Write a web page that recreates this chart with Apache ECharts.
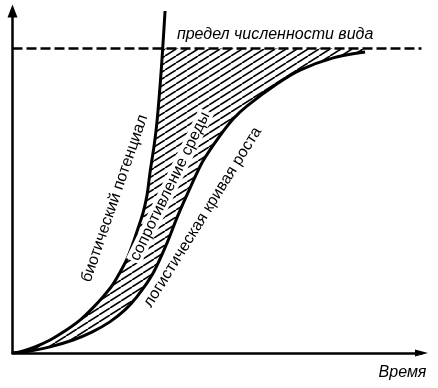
<!DOCTYPE html>
<html><head><meta charset="utf-8">
<script src="https://cdn.jsdelivr.net/npm/echarts@6/dist/echarts.min.js"></script>
<style>html,body{margin:0;padding:0;background:#fff}#c{width:438px;height:388px}</style>
</head><body><div id="c"></div>
<script>
// Schematic units: time 0..100, population size 0..100
const carryingCapacity = 89;
const bioticPotential = [[0,0],[1.8,0.3],[5.5,1.8],[9.2,3.8],[12.8,6.4],[16.5,9.6],[19.4,12.9],[22.1,16.4],[24.3,19.6],[26.2,23.4],[28.0,27.5],[29.5,32.2],[30.7,36.5],[31.9,40.9],[32.9,46.2],[33.6,52.6],[34.6,60.5],[35.3,67.3],[36.1,78.4],[36.7,88.6],[37.3,100]];
const logisticGrowth = [[0,0],[4.3,0.6],[9.2,1.8],[14.8,3.8],[19.4,6.1],[23.8,9.1],[27.5,12.6],[30.4,16.4],[34.4,23.4],[37.8,32.2],[40.2,39.5],[43.4,48.2],[46.5,56.0],[50.7,63.5],[54.0,68.5],[57.3,72.2],[64.7,78.7],[70.3,82.7],[78.4,86.3],[86.2,88.0]];
const limitX = [0, 100];
const labelText = ['предел численности вида','биотический потенциал','сопротивление среды','логистическая кривая роста','Время'];
const labelPos = [[40.2,93.0],[25.0,45.2],[38.5,48.7],[46.5,39.7],[101.2,-5.8]];
const labelAngle = [0,71,64,58,0];
const labelAlign = ['left','center','center','center','right'];
const labelItalic = [true,false,false,false,true];
const labelBg = [false,false,true,false,false];

function hatchPattern(){
  const w=11,h=7,c=document.createElement('canvas');
  c.width=w;c.height=h;
  const g=c.getContext('2d');
  g.strokeStyle='#000';g.lineWidth=1.6;
  for(const dx of [-w,0,w]){g.beginPath();g.moveTo(dx,h);g.lineTo(dx+w,0);g.stroke();}
  return c;
}

function crossing(){
  for(let i=1;i<bioticPotential.length;i++){
    const a=bioticPotential[i-1],b=bioticPotential[i];
    if(a[1]<=carryingCapacity&&b[1]>=carryingCapacity){
      const t=(carryingCapacity-a[1])/(b[1]-a[1]);
      return [a[0]+t*(b[0]-a[0]),carryingCapacity];
    }
  }
}
const region=[crossing()]
  .concat(bioticPotential.filter(p=>p[1]<carryingCapacity).reverse())
  .concat(logisticGrowth.slice(1))
  .concat([[logisticGrowth[logisticGrowth.length-1][0],carryingCapacity]]);

const pattern=hatchPattern();
const chart=echarts.init(document.getElementById('c'));
chart.setOption({
  animation:false,
  backgroundColor:'#fff',
  grid:{left:12.5,right:16.5,top:11,bottom:35},
  xAxis:{type:'value',min:0,max:100,
    axisLine:{show:true,onZero:false,symbol:['none','triangle'],symbolSize:[7,13],lineStyle:{color:'#000',width:2.5}},
    axisTick:{show:false},axisLabel:{show:false},splitLine:{show:false}},
  yAxis:{type:'value',min:0,max:100,
    axisLine:{show:true,onZero:false,symbol:['none','triangle'],symbolSize:[10,13],lineStyle:{color:'#000',width:2.5}},
    axisTick:{show:false},axisLabel:{show:false},splitLine:{show:false}},
  series:[
    {type:'custom',z:1,data:[[0,0]],
      renderItem:function(params,api){
        return {type:'polygon',shape:{points:region.map(p=>api.coord(p))},
          style:{fill:{image:pattern,repeat:'repeat'},stroke:null}};
      }},
    {type:'line',z:3,data:limitX.map(x=>[x,carryingCapacity]),symbol:'none',
      lineStyle:{color:'#000',width:2.5,type:[10,4]}},
    {type:'line',z:3,data:bioticPotential,symbol:'none',smooth:0.3,
      lineStyle:{color:'#000',width:3}},
    {type:'line',z:3,data:logisticGrowth,symbol:'none',smooth:0.3,
      lineStyle:{color:'#000',width:3}},
    {type:'custom',z:5,data:labelPos.map((p,i)=>[p[0],p[1],i]),
      renderItem:function(params,api){
        const i=params.dataIndex;
        const pt=api.coord([labelPos[i][0],labelPos[i][1]]);
        return {type:'text',x:pt[0],y:pt[1],rotation:labelAngle[i]*Math.PI/180,
          style:{text:labelText[i],
            font:(labelItalic[i]?'italic ':'')+'16px "Liberation Sans", Arial, sans-serif',
            fill:'#000',align:labelAlign[i],verticalAlign:'middle',
            backgroundColor:labelBg[i]?'#fff':null,padding:labelBg[i]?[0,2]:0}};
      }}
  ]
});
</script></body></html>
